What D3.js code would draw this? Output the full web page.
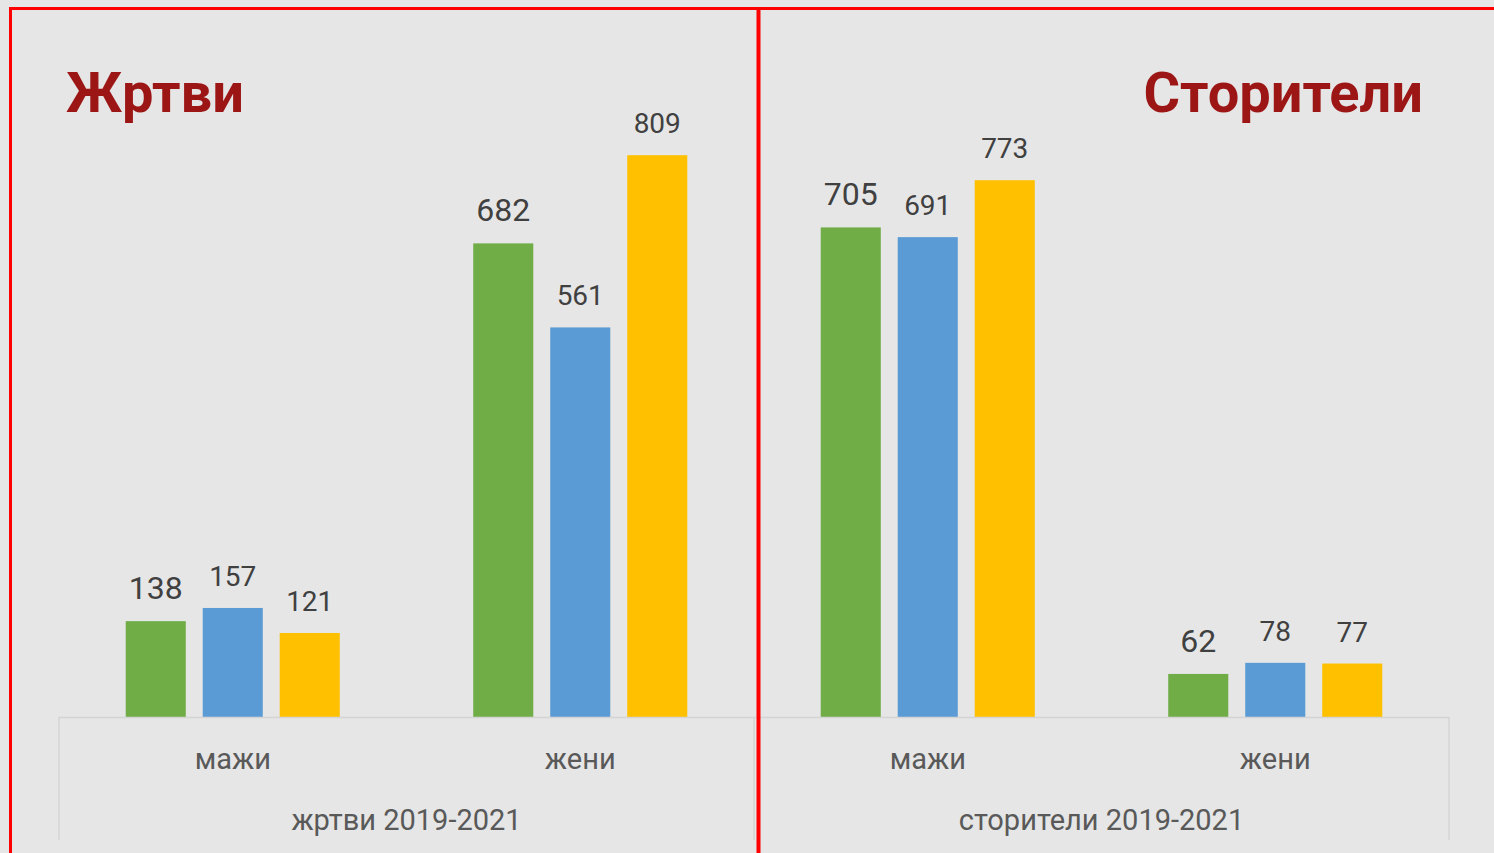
<!DOCTYPE html>
<html><head><meta charset="utf-8">
<script src="https://cdn.jsdelivr.net/npm/d3@7"></script>
<style>html,body{margin:0;padding:0;background:#e6e6e6;overflow:hidden}svg{display:block}</style>
</head><body>
<svg id="c" width="1494" height="853"></svg>
<script>
const categories = ["мажи", "жени", "мажи", "жени"];
const groups = ["жртви 2019-2021", "сторители 2019-2021"];
const panelTitles = ["Жртви", "Сторители"];
const seriesNames = ["2019", "2020", "2021"];
const series2019 = [138, 682, 705, 62];
const series2020 = [157, 561, 691, 78];
const series2021 = [121, 809, 773, 77];

const seriesValues = [series2019, series2020, series2021];
const colors = ["#70ad47", "#5b9bd5", "#ffc000"];
const FONT = "Roboto, 'Noto Sans', sans-serif";

const svg = d3.select("#c");
svg.append("rect").attr("width", 1494).attr("height", 853).attr("fill", "#e6e6e6");

const x0 = d3.scaleBand().domain(d3.range(categories.length)).range([59, 1449]).paddingInner(0.384).paddingOuter(0.192);
const x1 = d3.scaleBand().domain(seriesNames).range([0, x0.bandwidth()]).paddingInner(0.22).paddingOuter(0);
const y = d3.scaleLinear().domain([0, 900]).range([717, 92]);

// bars
const catG = svg.selectAll("g.cat").data(d3.range(categories.length)).join("g")
  .attr("class", "cat").attr("transform", i => `translate(${x0(i)},0)`);
catG.selectAll("rect").data(i => seriesNames.map((s, k) => ({s, k, v: seriesValues[k][i]}))).join("rect")
  .attr("x", d => x1(d.s)).attr("width", x1.bandwidth())
  .attr("y", d => y(d.v)).attr("height", d => y(0) - y(d.v))
  .attr("fill", d => colors[d.k]);
catG.selectAll("text").data(i => seriesNames.map((s, k) => ({s, k, v: seriesValues[k][i]}))).join("text")
  .attr("x", d => x1(d.s) + x1.bandwidth() / 2).attr("y", d => y(d.v) - 22)
  .attr("text-anchor", "middle").attr("font-family", FONT)
  .attr("font-size", d => d.k === 0 ? 32 : 28).attr("fill", "#404040")
  .text(d => d.v);

// category axis
const step = x0.step();
const axisLeft = 59, axisRight = 1449;
svg.append("line").attr("x1", axisLeft).attr("x2", axisRight).attr("y1", y(0) + 0.5).attr("y2", y(0) + 0.5)
  .attr("stroke", "#d4d4d4").attr("stroke-width", 1.5);
const groupBounds = [axisLeft, axisLeft + 2 * step, axisRight];
groupBounds.forEach(gx => {
  svg.append("line").attr("x1", gx).attr("x2", gx).attr("y1", y(0)).attr("y2", 840)
    .attr("stroke", "#d4d4d4").attr("stroke-width", 1.5);
});
svg.selectAll("text.cat").data(categories).join("text").attr("class", "cat")
  .attr("x", (d, i) => x0(i) + x0.bandwidth() / 2).attr("y", 769)
  .attr("text-anchor", "middle").attr("font-family", FONT).attr("font-size", 29).attr("fill", "#595959")
  .text(d => d);
svg.selectAll("text.grp").data(groups).join("text").attr("class", "grp")
  .attr("x", (d, i) => (groupBounds[i] + groupBounds[i + 1]) / 2).attr("y", 830)
  .attr("text-anchor", "middle").attr("font-family", FONT).attr("font-size", 29).attr("fill", "#595959")
  .text(d => d);

// red frame lines
const red = "#ff0000";
svg.append("line").attr("x1", 9).attr("x2", 1494).attr("y1", 8.5).attr("y2", 8.5).attr("stroke", red).attr("stroke-width", 3);
svg.append("line").attr("x1", 10.5).attr("x2", 10.5).attr("y1", 7).attr("y2", 853).attr("stroke", red).attr("stroke-width", 3);
svg.append("line").attr("x1", 758.5).attr("x2", 758.5).attr("y1", 7).attr("y2", 853).attr("stroke", red).attr("stroke-width", 4);

// titles
svg.append("text").attr("x", 66).attr("y", 112).attr("font-family", FONT).attr("font-weight", 700)
  .attr("font-size", 56).attr("fill", "#9c1616").text(panelTitles[0]);
svg.append("text").attr("x", 1423).attr("y", 112).attr("text-anchor", "end").attr("font-family", FONT).attr("font-weight", 700)
  .attr("font-size", 56).attr("fill", "#9c1616").text(panelTitles[1]);
</script>
</body></html>
